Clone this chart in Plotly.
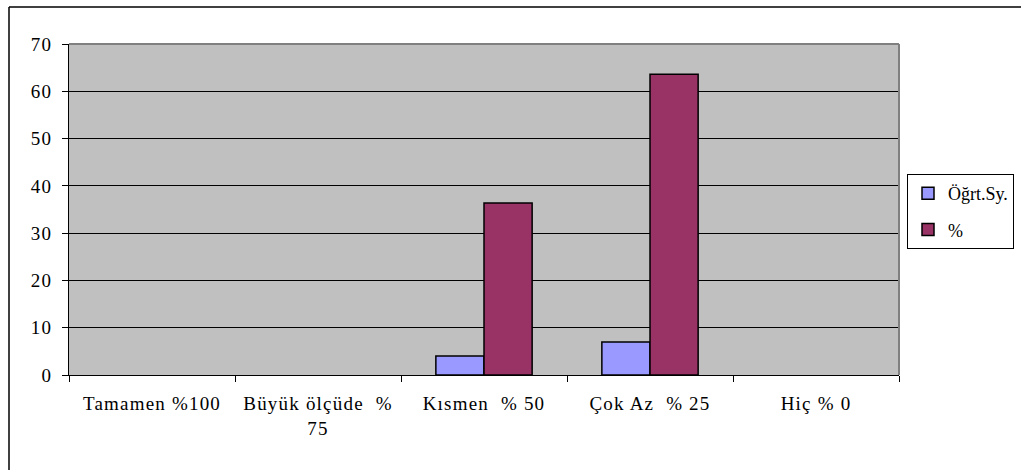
import plotly.graph_objects as go

categories = ["Tamamen %100", "Büyük ölçüde\u00a0\u00a0%<br>75", "Kısmen\u00a0\u00a0% 50", "Çok Az\u00a0\u00a0% 25", "Hiç % 0"]
ogrt_sy = [0, 0, 4, 7, 0]
yuzde = [0, 0, 36.4, 63.6, 0]
y_ticks = [0, 10, 20, 30, 40, 50, 60, 70]

W, H = 1021, 470
L, R, T, B = 69, 899, 44, 375

def px_x(p):
    return (p - L) / (R - L)

def px_y(p):
    return (B - p) / (B - T)

def hide_zero(vals):
    return [v if v != 0 else None for v in vals]

FAM = "Liberation Serif, Times New Roman, serif"

fig = go.Figure()
fig.add_trace(go.Bar(x=categories, y=hide_zero(ogrt_sy), name="Öğrt.Sy.",
                     marker=dict(color="#9999FF", line=dict(color="black", width=1.5)),
                     legendgroup="a"))
fig.add_trace(go.Bar(x=categories, y=hide_zero(yuzde), name="%",
                     marker=dict(color="#993366", line=dict(color="black", width=1.5)),
                     legendgroup="b"))

fig.update_layout(
    width=W, height=H,
    margin=dict(l=L, r=W - R, t=T, b=H - B, autoexpand=False),
    paper_bgcolor="white",
    plot_bgcolor="#C0C0C0",
    font=dict(family=FAM, size=19, color="black"),
    barmode="group",
    bargap=0.42,
    bargroupgap=0,
    showlegend=True,
    legend=dict(
        x=px_x(907), y=px_y(174), xanchor="left", yanchor="top",
        bordercolor="black", borderwidth=1, bgcolor="white",
        font=dict(family=FAM, size=18, color="black"),
        traceorder="grouped", tracegroupgap=10,
        itemwidth=30, entrywidth=125,
    ),
    xaxis=dict(
        type="category",
        showline=True, linecolor="black", linewidth=1,
        ticks="outside", ticklen=6, tickcolor="black", tickson="boundaries",
        showgrid=False, ticklabelstandoff=11,
        fixedrange=True,
    ),
    yaxis=dict(
        range=[0, 70], tickvals=y_ticks,
        showline=True, linecolor="black", linewidth=1,
        ticks="outside", ticklen=6, tickcolor="black",
        showgrid=True, gridcolor="black", gridwidth=1,
        zeroline=False, ticklabelstandoff=6,
        fixedrange=True,
    ),
    shapes=[
        dict(type="line", xref="paper", yref="paper", x0=0, x1=1, y0=1, y1=1,
             line=dict(color="#808080", width=2)),
        dict(type="line", xref="paper", yref="paper", x0=1, x1=1, y0=0, y1=1,
             line=dict(color="#808080", width=2)),
        dict(type="line", xref="paper", yref="paper", x0=px_x(9), x1=px_x(9), y0=px_y(475), y1=px_y(7),
             line=dict(color="black", width=1.5)),
        dict(type="line", xref="paper", yref="paper", x0=px_x(9), x1=px_x(1030), y0=px_y(7), y1=px_y(7),
             line=dict(color="black", width=1.5)),
    ],
)

post = """
document.body.style.margin = '0';
document.body.style.overflow = 'hidden';
document.querySelectorAll('.xtick text, .ytick text').forEach(function(t){
  t.style.letterSpacing = '1.2px';
});
"""

fig.write_html("out.html", post_script=post, config={"displayModeBar": False})
